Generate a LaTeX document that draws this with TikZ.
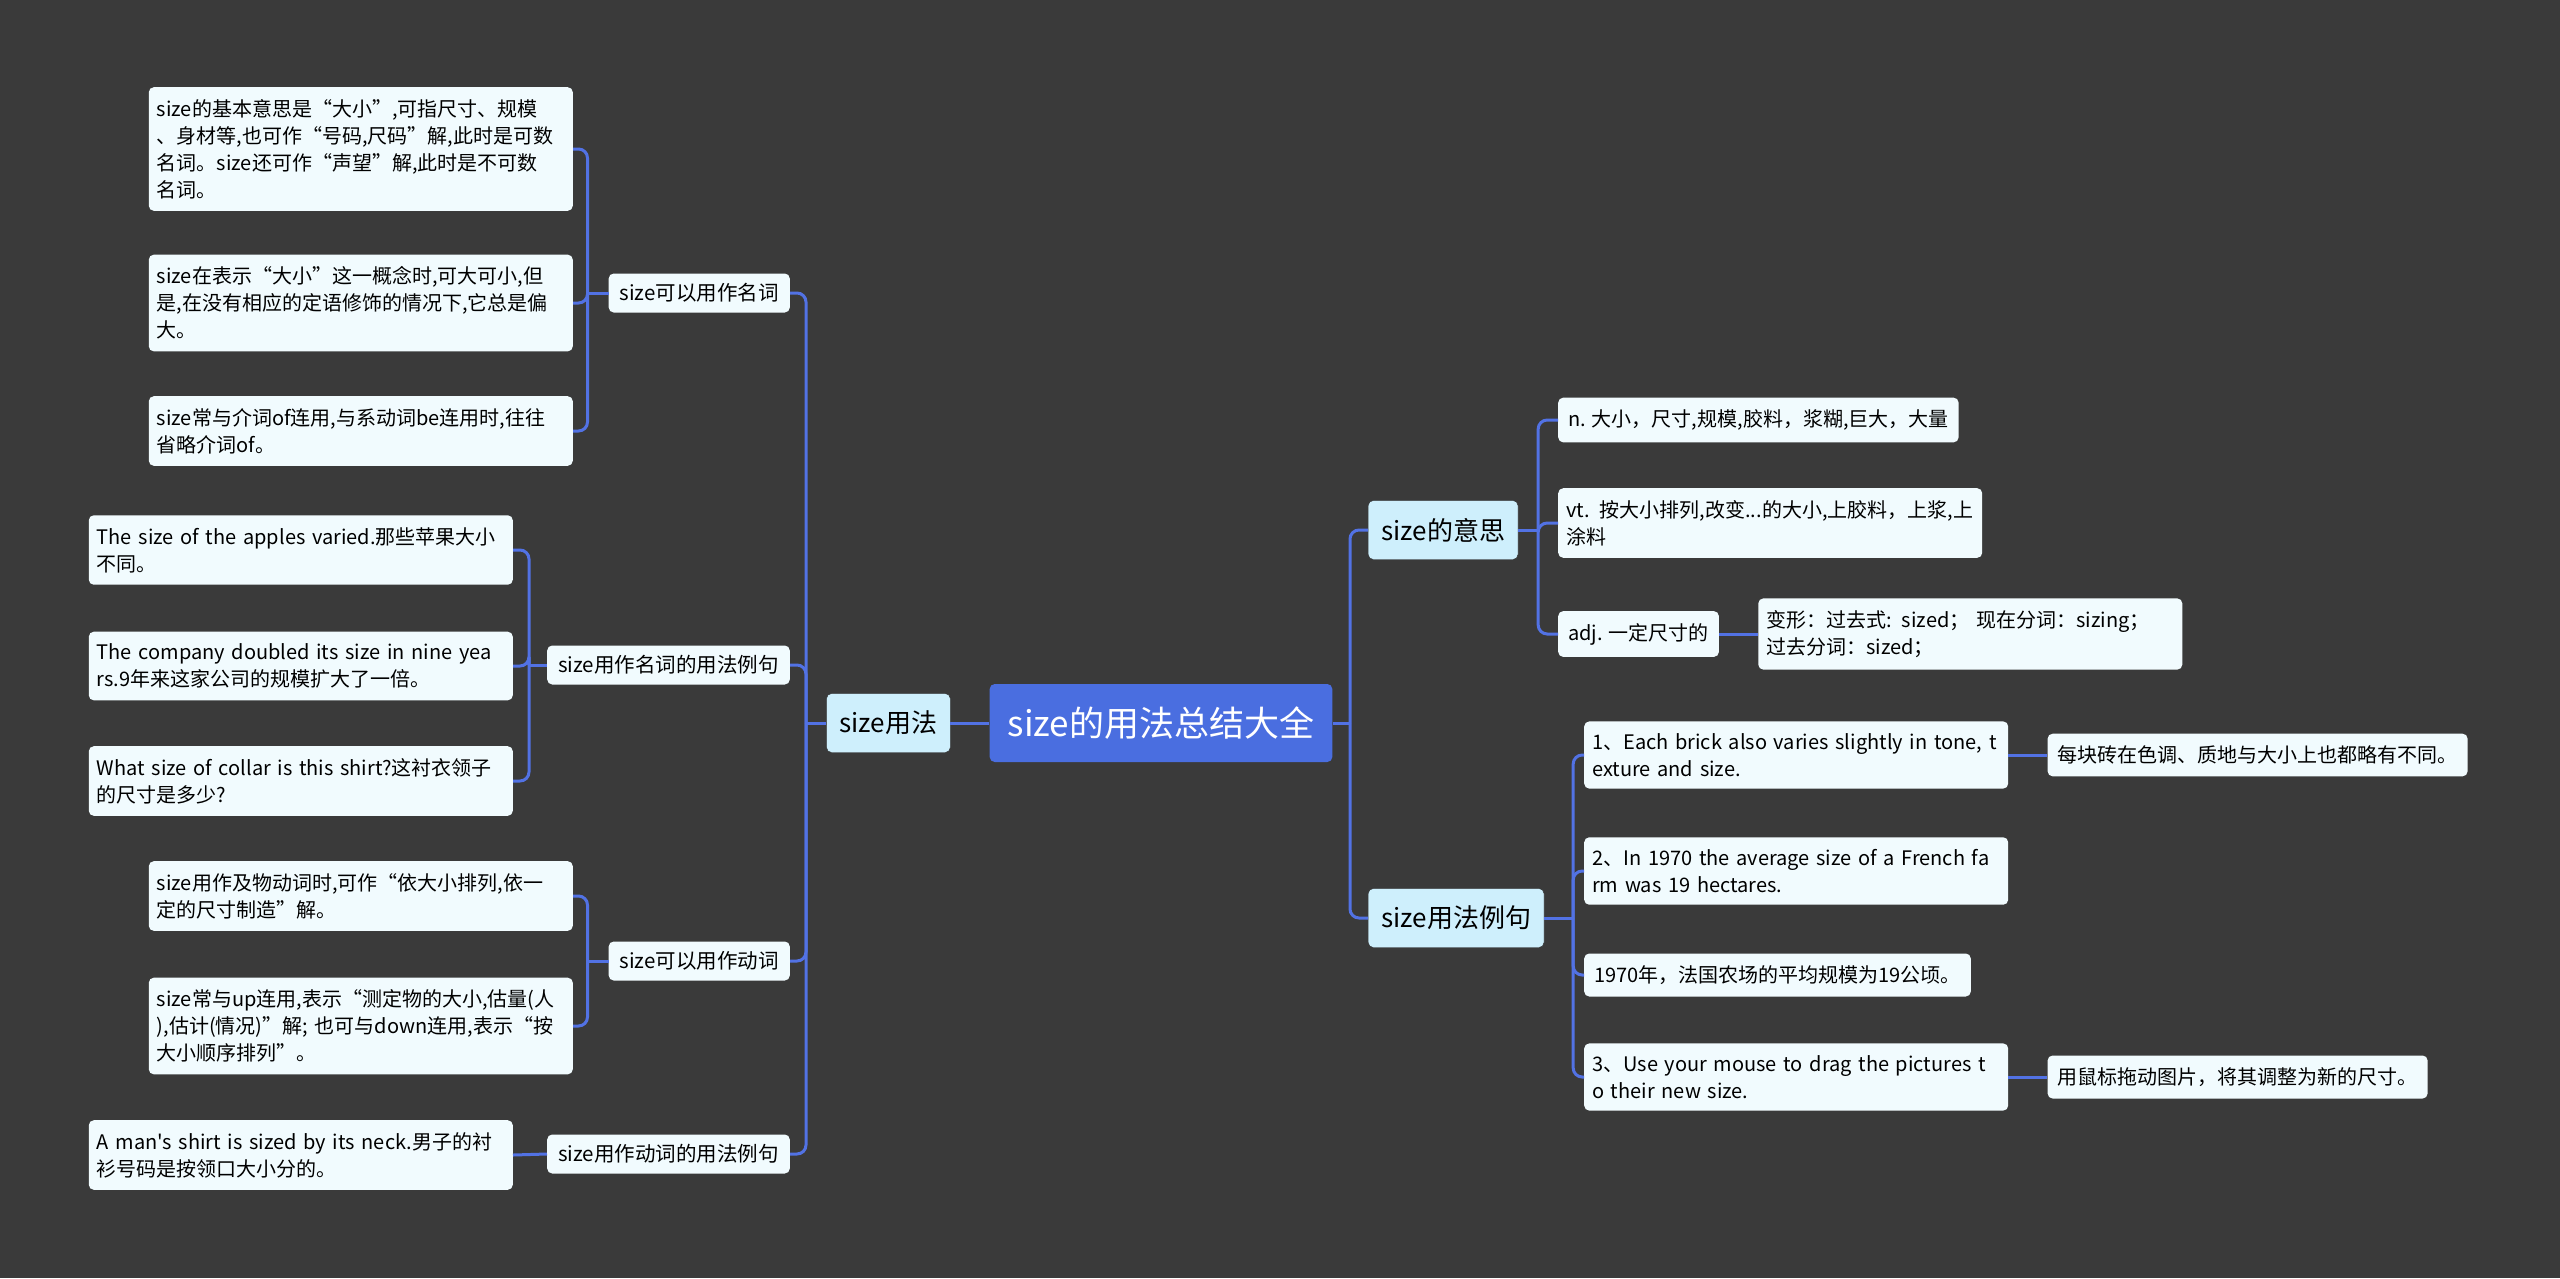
\documentclass[tikz,border=0pt]{standalone}
\usepackage{fontspec}
\setmainfont{Noto Sans CJK SC}[Ligatures=TeXOff]
\usetikzlibrary{positioning}
\definecolor{canvas}{RGB}{58,58,58}
\definecolor{royal}{RGB}{74,110,224}
\definecolor{wire}{RGB}{82,114,228}
\definecolor{ice}{RGB}{206,239,252}
\definecolor{snow}{RGB}{241,251,254}

\begin{document}
\begin{tikzpicture}[x=1pt, y=-1pt,
    root/.style={fill=royal, text=white, rounded corners=5pt, font=\fontsize{35}{40}\selectfont, inner xsep=18pt, minimum height=78pt},
    topic/.style={fill=ice, draw=black!85, rounded corners=5pt, font=\fontsize{26}{30}\selectfont, inner xsep=13pt, minimum height=59pt},
    sub/.style={fill=snow, rounded corners=5pt, font=\fontsize{20.5}{26}\selectfont, inner xsep=11pt, minimum height=39pt},
    leaf/.style={fill=snow, rounded corners=5pt, font=\fontsize{20}{27}\selectfont, inner xsep=10pt, inner ysep=12pt, align=left},
    wide/.style={leaf, inner xsep=8pt, text width=408pt},
    link/.style={draw=wire, line width=3pt},
    fork/.style={link, rounded corners=9pt},
  ]
  \fill[canvas] (0,0) rectangle (2560,1278);

  \node[root] (root) at (1161,723) {size的用法总结大全};
  \node[topic, left=39pt of root] (use) {size用法};
  \node[topic, anchor=west] (mean) at (1368,530) {size的意思};
  \node[topic, anchor=west] (ex) at (1368,918) {size用法例句};

  % left half
  \node[sub, anchor=east] (noun) at (790,293) {size可以用作名词};
  \node[sub, anchor=east] (nounex) at (790,665) {size用作名词的用法例句};
  \node[sub, anchor=east] (verb) at (790,961) {size可以用作动词};
  \node[sub, anchor=east] (verbex) at (790,1154) {size用作动词的用法例句};

  \node[wide, anchor=east] (a1) at (573,149) {size的基本意思是“大小”,可指尺寸、规模\\、身材等,也可作“号码,尺码”解,此时是可数\\名词。size还可作“声望”解,此时是不可数\\名词。};
  \node[wide, anchor=east] (a2) at (573,303) {size在表示“大小”这一概念时,可大可小,但\\是,在没有相应的定语修饰的情况下,它总是偏\\大。};
  \node[wide, anchor=east] (a3) at (573,431) {size常与介词of连用,与系动词be连用时,往往\\省略介词of。};

  \node[wide, anchor=east] (b1) at (513,550) {The size of the apples varied.那些苹果大小\\不同。};
  \node[wide, anchor=east] (b2) at (513,666) {\mbox{The company doubled its size in nine yea}\\rs.9年来这家公司的规模扩大了一倍。};
  \node[wide, anchor=east] (b3) at (513,781) {What size of collar is this shirt?这衬衣领子\\的尺寸是多少?};

  \node[wide, anchor=east] (c1) at (573,896) {size用作及物动词时,可作“依大小排列,依一\\定的尺寸制造”解。};
  \node[wide, anchor=east] (c2) at (573,1026) {size常与up连用,表示“测定物的大小,估量(人\\),估计(情况)”解; 也可与down连用,表示“按\\大小顺序排列”。};

  \node[wide, anchor=east] (d1) at (513,1155) {\mbox{A man's shirt is sized by its neck.男子的衬}\\衫号码是按领口大小分的。};

  % right half
  \node[leaf, anchor=west] (e1) at (1558,420) {n. 大小，尺寸,规模,胶料，浆糊,巨大，大量};
  \node[wide, anchor=west] (e2) at (1558,523) {vt. 按大小排列,改变...的大小,上胶料，上浆,上\\涂料};
  \node[leaf, anchor=west] (e3) at (1558,634) {adj. 一定尺寸的};
  \node[wide, right=39pt of e3] (e3x) {变形：过去式: sized； 现在分词：sizing；\\过去分词：sized；};

  \node[wide, anchor=west] (f1) at (1584,755) {\mbox{1、Each brick also varies slightly in tone, t}\\exture and size.};
  \node[wide, anchor=west] (f2) at (1584,871) {\mbox{2、In 1970 the average size of a French fa}\\rm was 19 hectares.};
  \node[leaf, anchor=west] (f3) at (1584,975) {1970年，法国农场的平均规模为19公顷。};
  \node[wide, anchor=west] (f4) at (1584,1077) {\mbox{3、Use your mouse to drag the pictures t}\\o their new size.};
  \node[leaf, right=39pt of f1] (f1x) {每块砖在色调、质地与大小上也都略有不同。};
  \node[leaf, right=39pt of f4] (f4x) {用鼠标拖动图片，将其调整为新的尺寸。};

  % connectors
  \coordinate (jl) at (806,723);
  \coordinate (jr) at (1350,723);
  \draw[link] (root.west) -- (use.east);
  \draw[link] (use.west) -- (jl);
  \draw[link] (root.east) -- (jr);
  \foreach \n in {noun, nounex, verb, verbex}
    \draw[fork] (jl) |- (\n.east);
  \foreach \n in {mean, ex}
    \draw[fork] (jr) |- (\n.west);

  \coordinate (ja) at ([xshift=-21pt]noun.west);
  \draw[link] (noun.west) -- (ja);
  \foreach \n in {a1, a2, a3}
    \draw[fork] (ja) |- (\n.east);

  \coordinate (jb) at ([xshift=-18pt]nounex.west);
  \draw[link] (nounex.west) -- (jb);
  \foreach \n in {b1, b2, b3}
    \draw[fork] (jb) |- (\n.east);

  \coordinate (jc) at ([xshift=-21pt]verb.west);
  \draw[link] (verb.west) -- (jc);
  \foreach \n in {c1, c2}
    \draw[fork] (jc) |- (\n.east);

  \draw[link] (verbex.west) -- (d1.east);

  \coordinate (je) at ([xshift=20pt]mean.east);
  \draw[link] (mean.east) -- (je);
  \foreach \n in {e1, e2, e3}
    \draw[fork] (je) |- (\n.west);
  \draw[link] (e3.east) -- (e3x.west);

  \coordinate (jf) at ([xshift=29pt]ex.east);
  \draw[link] (ex.east) -- (jf);
  \foreach \n in {f1, f2, f3, f4}
    \draw[fork] (jf) |- (\n.west);
  \draw[link] (f1.east) -- (f1x.west);
  \draw[link] (f4.east) -- (f4x.west);
\end{tikzpicture}
\end{document}
